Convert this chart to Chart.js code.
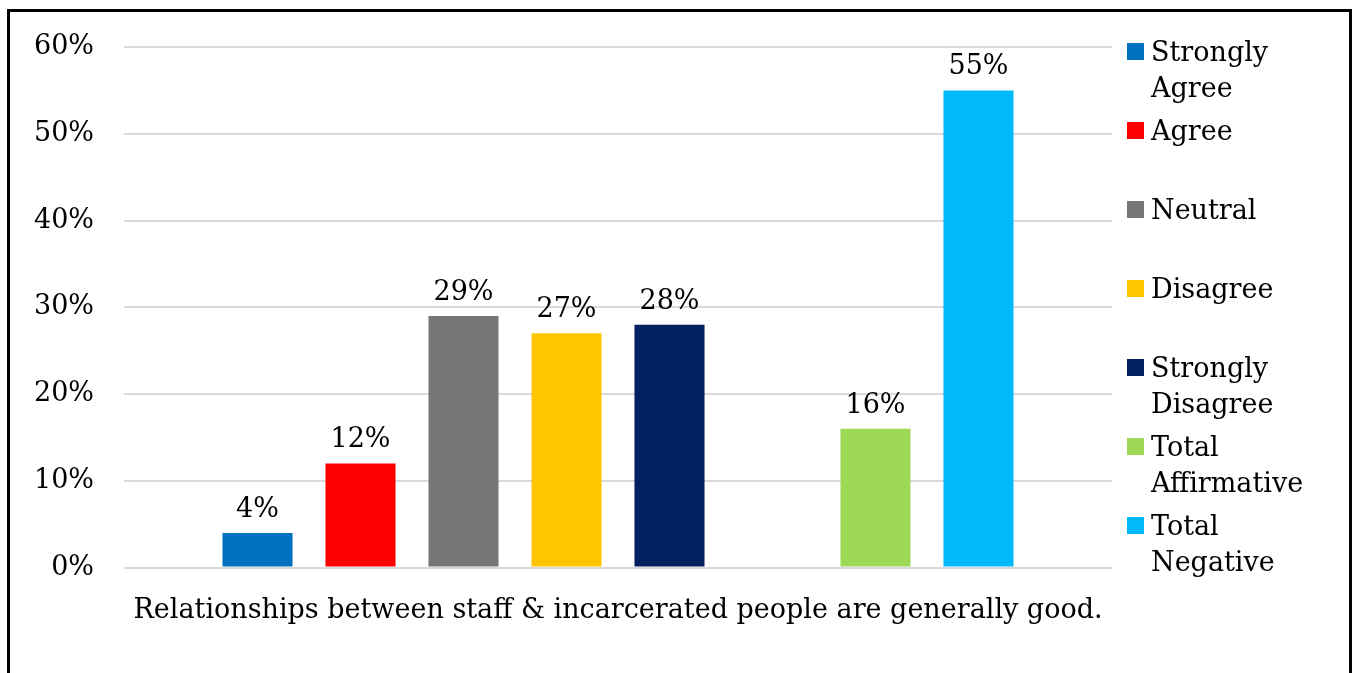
<!DOCTYPE html>
<html lang="en">
<head>
    <meta charset="UTF-8">
    <script src="https://cdn.jsdelivr.net/npm/chart.js"></script>
    <title>Relationships between staff & incarcerated people</title>
    <style>
        body { margin: 0; background: #fff; overflow: hidden; }
        #chart { position: absolute; left: 0; top: 0; }
        .frame {
            position: absolute; left: 7px; top: 9px;
            width: 1339px; height: 700px;
            border: 3px solid #000;
            pointer-events: none;
        }
    </style>
</head>
<body>
    <canvas id="chart" width="1353" height="673"></canvas>
    <div class="frame"></div>

    <script>
        // данные графика
        const categories = ['Relationships between staff & incarcerated people are generally good.'];
        const seriesNames = ['Strongly Agree', 'Agree', 'Neutral', 'Disagree', 'Strongly Disagree', '', 'Total Affirmative', 'Total Negative'];
        const seriesValues = [4, 12, 29, 27, 28, null, 16, 55];
        const seriesColors = ['#0070c0', '#ff0000', '#767676', '#ffc600', '#022060', '#ffffff', '#9dd955', '#00b9f9'];
        const yTicks = [0, 10, 20, 30, 40, 50, 60];

        const fontFamily = '"DejaVu Serif", Georgia, serif';
        const fontSize = 27;

        // подписи над столбцами
        const valueLabels = {
            id: 'valueLabels',
            afterDatasetsDraw(chart) {
                const ctx = chart.ctx;
                ctx.save();
                ctx.font = fontSize + 'px ' + fontFamily;
                ctx.fillStyle = '#000';
                ctx.textAlign = 'center';
                ctx.textBaseline = 'alphabetic';
                chart.data.datasets.forEach((ds, i) => {
                    const meta = chart.getDatasetMeta(i);
                    meta.data.forEach((bar, j) => {
                        const v = ds.data[j];
                        if (v === null || v === undefined) return;
                        ctx.fillText(v + '%', bar.x, bar.y - 16);
                    });
                });
                ctx.restore();
            }
        };

        // легенда справа, с переносом длинных подписей
        const sideLegend = {
            id: 'sideLegend',
            afterDraw(chart) {
                const ctx = chart.ctx;
                const area = chart.chartArea;
                const step = 79;
                const lineH = 36;
                const maxW = 170;
                ctx.save();
                ctx.font = fontSize + 'px ' + fontFamily;
                ctx.textAlign = 'left';
                ctx.textBaseline = 'alphabetic';
                let k = 0;
                chart.data.datasets.forEach(ds => {
                    if (!ds.label) return;
                    const base = area.top + 14 + k * step;
                    ctx.fillStyle = ds.backgroundColor;
                    ctx.fillRect(area.right + 15, base - 18, 17, 17);
                    // перенос по словам
                    const words = ds.label.split(' ');
                    const lines = [];
                    let cur = '';
                    words.forEach(w => {
                        const test = cur ? cur + ' ' + w : w;
                        if (cur && ctx.measureText(test).width > maxW) {
                            lines.push(cur);
                            cur = w;
                        } else {
                            cur = test;
                        }
                    });
                    lines.push(cur);
                    ctx.fillStyle = '#000';
                    lines.forEach((line, n) => ctx.fillText(line, area.right + 39, base + n * lineH));
                    k++;
                });
                ctx.restore();
            }
        };

        new Chart(document.getElementById('chart'), {
            type: 'bar',
            data: {
                labels: categories,
                datasets: seriesNames.map((name, i) => ({
                    label: name,
                    data: [seriesValues[i]],
                    backgroundColor: seriesColors[i],
                    categoryPercentage: 0.834,
                    barPercentage: 0.68
                }))
            },
            options: {
                responsive: false,
                animation: false,
                devicePixelRatio: 1,
                layout: { padding: { left: 0, right: 241, top: 47, bottom: 27 } },
                plugins: {
                    legend: { display: false },
                    tooltip: { enabled: false }
                },
                scales: {
                    x: {
                        grid: { display: false },
                        border: { display: false },
                        ticks: {
                            color: '#000',
                            padding: 19,
                            font: { family: fontFamily, size: fontSize }
                        }
                    },
                    y: {
                        min: 0,
                        max: yTicks[yTicks.length - 1],
                        afterFit(scale) { scale.width = 124; },
                        afterBuildTicks(scale) { scale.ticks = yTicks.map(v => ({ value: v })); },
                        grid: { color: '#d9d9d9', lineWidth: 2, drawTicks: false },
                        border: { display: false },
                        ticks: {
                            color: '#000',
                            padding: 30,
                            font: { family: fontFamily, size: fontSize },
                            callback: v => v + '%'
                        }
                    }
                }
            },
            plugins: [valueLabels, sideLegend]
        });
    </script>
</body>
</html>
